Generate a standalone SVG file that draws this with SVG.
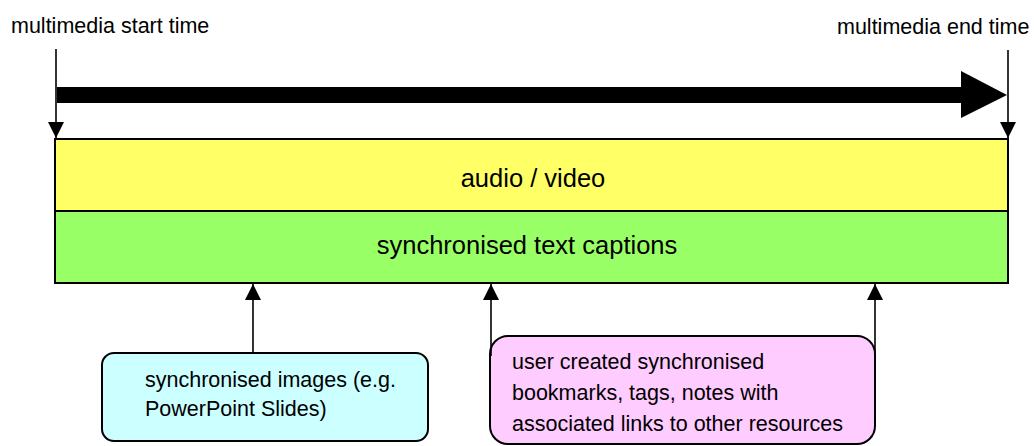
<svg xmlns="http://www.w3.org/2000/svg" width="1034" height="446" viewBox="0 0 1034 446">
<style>
text{font-family:"Liberation Sans",Arial,sans-serif;fill:#000}
.lbl{font-size:21.5px}
.big{font-size:25.5px}
.ln{stroke:#000;stroke-width:1.6;fill:none}
.box{stroke:#000;stroke-width:2}
</style>
<defs>
<marker id="ah" viewBox="0 0 16 20" refX="16" refY="8" markerWidth="16" markerHeight="20" markerUnits="userSpaceOnUse" orient="auto">
<path d="M0,0 L16,8 L0,16 Z" fill="#000"/>
</marker>
</defs>
<rect width="1034" height="446" fill="#fff"/>
<g id="start-label"><text class="lbl" x="11" y="33">multimedia start time</text></g>
<g id="end-label"><text class="lbl" x="837" y="34">multimedia end time</text></g>
<g id="timeline-arrow">
<rect x="57" y="87" width="905" height="16" fill="#000"/>
<polygon points="961,71 1007,95 961,118" fill="#000"/>
</g>
<g id="audio-video">
<rect class="box" x="55" y="139" width="953" height="72" fill="#FFFF66"/>
<text class="big" x="533" y="187" text-anchor="middle">audio / video</text>
</g>
<g id="captions">
<rect class="box" x="55" y="211" width="953" height="72" fill="#99FF66"/>
<text class="big" x="527" y="254" text-anchor="middle">synchronised text captions</text>
</g>
<g id="images-box">
<rect class="box" x="102" y="353" width="326" height="88" rx="12" fill="#CCFFFF"/>
<text class="lbl" x="145" y="387">synchronised images (e.g.</text>
<text class="lbl" x="145" y="416">PowerPoint Slides)</text>
</g>
<g id="bookmarks-box">
<rect class="box" x="490" y="336" width="385" height="108" rx="18" fill="#FFCCFF"/>
<text class="lbl" x="512" y="369">user created synchronised</text>
<text class="lbl" x="512" y="400">bookmarks, tags, notes with</text>
<text class="lbl" x="512" y="431">associated links to other resources</text>
</g>
<g id="connectors">
<line class="ln" x1="56" y1="49" x2="56" y2="138" marker-end="url(#ah)"/>
<line class="ln" x1="1008" y1="50" x2="1008" y2="138" marker-end="url(#ah)"/>
<line class="ln" x1="253" y1="353" x2="253" y2="284" marker-end="url(#ah)"/>
<line class="ln" x1="491" y1="356" x2="491" y2="284" marker-end="url(#ah)"/>
<line class="ln" x1="875" y1="356" x2="875" y2="284" marker-end="url(#ah)"/>
</g>
</svg>
